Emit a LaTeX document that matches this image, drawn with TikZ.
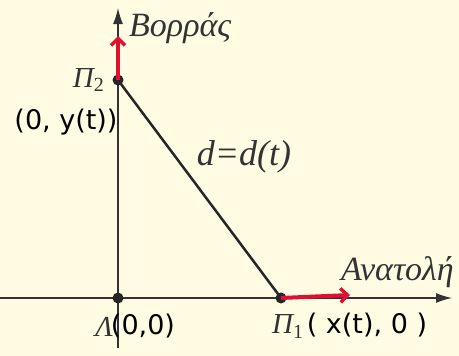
\documentclass[tikz,border=0pt]{standalone}
\usepackage{fontspec}
\setmainfont{Liberation Serif}
\newfontfamily\hand{DejaVu Sans}
\usetikzlibrary{arrows.meta}
\definecolor{bg}{HTML}{FFFCE3}
\definecolor{axisgray}{HTML}{333333}
\definecolor{redarrow}{HTML}{E01030}
\newcommand{\subidx}[1]{\raisebox{-5pt}{\fontsize{20}{20}\selectfont\upshape #1}}
\begin{document}
\begin{tikzpicture}[x=1pt,y=-1pt,
  axis/.style={draw=axisgray,line width=1.3pt,-{Latex[length=16pt,width=10pt]}},
  seg/.style={draw=black!85,line width=2.5pt},
  dot/.style={circle,fill=black!85,inner sep=0pt,minimum size=11pt},
  move/.style={draw=redarrow,line width=4pt,-{Straight Barb[length=7pt,width=14pt,line width=3.5pt]}},
  lbl/.style={text=black!80,inner sep=0pt},
  big/.style={font=\fontsize{34}{36}\selectfont\itshape},
  mid/.style={font=\fontsize{29}{32}\selectfont\itshape},
  hw/.style={font=\hand\fontsize{27}{30}\selectfont,inner sep=0pt}]
\fill[bg] (0,0) rectangle (459,356);
\useasboundingbox (0,0) rectangle (459,356);
% axes
\coordinate (ybot) at (118,348);
\coordinate (ytop) at (118,8);
\coordinate (xl) at (0,298);
\coordinate (xr) at (452,298);
\draw[axis] (ybot) -- (ytop);
\draw[axis] (xl) -- (xr);
% points
\node[dot] (O) at (118,298) {};
\node[dot] (P2) at (118,80) {};
\node[dot] (P1) at (281,298) {};
\draw[seg] (P2.center) -- (P1.center);
% red arrows
\coordinate (up) at (118,36);
\coordinate (right) at (350,295);
\draw[move] (P2.center) -- (up);
\draw[move] (P1.center) -- (right);
% labels
\node[lbl,big,anchor=base west] (north) at (129,36) {Βορράς};
\node[lbl,mid,anchor=base east] (p2l) at (104,87) {Π\subidx{2}};
\node[lbl,font=\fontsize{36}{38}\selectfont\itshape,anchor=base] (dl) at (244,165) {d=d(t)};
\node[lbl,big,anchor=base east] (east) at (454,280) {Ανατολή};
\node[lbl,mid,anchor=base east] (ol) at (113,336) {Λ};
\node[lbl,mid,anchor=base west] (p1l) at (272,333) {Π\subidx{1}};
\node[hw] (yt) at (66,122) {(0, y(t))};
\node[hw] (oo) at (143,326) {(0,0)};
\node[hw] (xt) at (367,325) {( x(t), 0 )};
\end{tikzpicture}
\end{document}
